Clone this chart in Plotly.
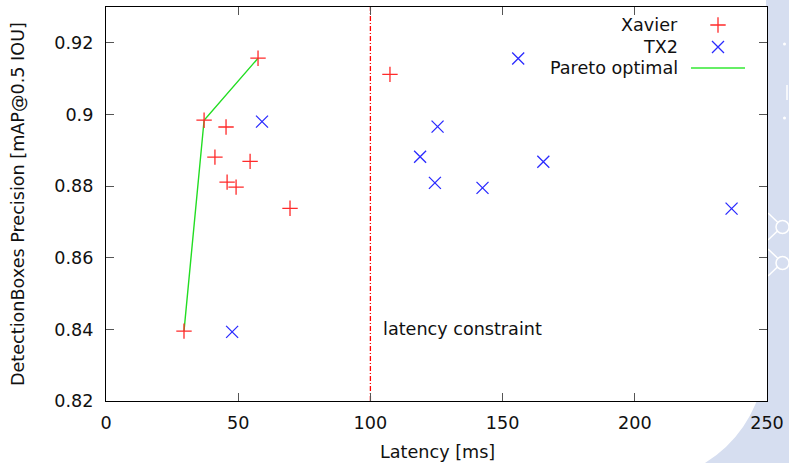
import plotly.graph_objects as go

# ---- data ----
xavier_latency = [29.5, 37.1, 45.4, 41.2, 54.5, 45.8, 49.2, 69.6, 57.5, 107.4]
xavier_map = [0.8395, 0.8984, 0.8965, 0.8881, 0.8869, 0.8811, 0.8797, 0.8738, 0.9157, 0.9112]

tx2_latency = [47.7, 59.0, 155.9, 125.4, 118.8, 124.4, 142.4, 165.4, 236.6]
tx2_map = [0.8393, 0.8980, 0.9156, 0.8966, 0.8882, 0.8809, 0.8795, 0.8868, 0.8737]

pareto_latency = [29.5, 37.1, 57.5]
pareto_map = [0.8395, 0.8984, 0.9157]

latency_constraint = 100
x_ticks = [0, 50, 100, 150, 200, 250]
y_ticks = [0.82, 0.84, 0.86, 0.88, 0.90, 0.92]
y_tick_labels = ["0.82", "0.84", "0.86", "0.88", "0.9", "0.92"]
legend_names = ["Xavier", "TX2", "Pareto optimal"]

# ---- styles ----
RED = "#ff2a2a"
BLUE = "#2a2aff"
GREEN = "#22dd22"
FONT = "DejaVu Sans"
FS = 17.6

# plot area in pixels (for converting decoration positions)
L, R, T, B = 106, 767, 7, 401
W, H = 789, 463


def px(xp):
    return (xp - L) / (R - L)


def py(yp):
    return (B - yp) / (B - T)


fig = go.Figure()

fig.add_trace(go.Scatter(
    x=pareto_latency, y=pareto_map, mode="lines",
    line=dict(color=GREEN, width=1.4), showlegend=False, hoverinfo="skip"))

fig.add_trace(go.Scatter(
    x=[latency_constraint, latency_constraint], y=[0.82, 0.93], mode="lines",
    line=dict(color="#ff0000", width=1.3, dash="5px,2px,1px,2px"),
    showlegend=False, hoverinfo="skip"))

plus_marker = dict(symbol="cross-thin-open", size=11, color=RED, line=dict(color=RED, width=1.3))
x_marker = dict(symbol="x-thin-open", size=12, color=BLUE, line=dict(color=BLUE, width=1.3))

fig.add_trace(go.Scatter(
    x=xavier_latency, y=xavier_map, mode="markers", name=legend_names[0],
    marker=plus_marker, showlegend=False))

fig.add_trace(go.Scatter(
    x=tx2_latency, y=tx2_map, mode="markers", name=legend_names[1],
    marker=x_marker, showlegend=False))

# ---- manual gnuplot-style legend (text left, sample right) ----
leg_y_px = [25, 47, 68]
leg_text_x = px(680)
leg_sample_x = px(718)
fig.add_trace(go.Scatter(
    x=[leg_sample_x], y=[py(leg_y_px[0])], xaxis="x2", yaxis="y2", mode="markers",
    marker=plus_marker, showlegend=False, hoverinfo="skip"))
fig.add_trace(go.Scatter(
    x=[leg_sample_x], y=[py(leg_y_px[1])], xaxis="x2", yaxis="y2", mode="markers",
    marker=x_marker, showlegend=False, hoverinfo="skip"))
fig.add_trace(go.Scatter(
    x=[px(691), px(745)], y=[py(leg_y_px[2])] * 2, xaxis="x2", yaxis="y2", mode="lines",
    line=dict(color="#66ee66", width=2), showlegend=False, hoverinfo="skip"))

annotations = []
for name, yp in zip(legend_names, leg_y_px):
    annotations.append(dict(
        x=leg_text_x, y=py(yp), xref="paper", yref="paper", text=name,
        showarrow=False, xanchor="right", yanchor="middle",
        font=dict(family=FONT, size=FS, color="#111")))

annotations.append(dict(
    x=104, y=0.84, xref="x", yref="y", text="latency constraint",
    showarrow=False, xanchor="left", yanchor="middle",
    font=dict(family=FONT, size=FS, color="#111")))

# y-axis title placed like gnuplot (far left)
annotations.append(dict(
    x=px(18), y=py(204), xref="paper", yref="paper",
    text="DetectionBoxes Precision [mAP@0.5 IOU]", textangle=-90,
    showarrow=False, xanchor="center", yanchor="middle",
    font=dict(family=FONT, size=FS, color="#111")))

# x-axis title
annotations.append(dict(
    x=px(437), y=py(452), xref="paper", yref="paper",
    text="Latency [ms]", showarrow=False, xanchor="center", yanchor="middle",
    font=dict(family=FONT, size=FS, color="#111")))

# ---- background decoration (slide background) ----
BG_BLUE = "#d6def0"
shapes = [
    dict(type="path", xref="paper", yref="paper", layer="below",
         path=(f"M {px(766)},{py(-5)} L {px(795)},{py(-5)} L {px(795)},{py(470)} "
               f"L {px(705)},{py(470)} L {px(705)},{py(463)} "
               f"Q {px(758)},{py(430)} {px(767)},{py(360)} Z"),
         fillcolor=BG_BLUE, line=dict(width=0)),
    dict(type="rect", xref="paper", yref="paper", layer="below",
         x0=0, x1=1, y0=0, y1=1, fillcolor="white", line=dict(width=0)),
]
for cy in (227, 263):
    shapes.append(dict(type="circle", xref="paper", yref="paper", layer="below",
                       x0=px(776), x1=px(789), y0=py(cy + 6.5), y1=py(cy - 6.5),
                       line=dict(color="white", width=1.5)))
    shapes.append(dict(type="line", xref="paper", yref="paper", layer="below",
                       x0=px(768), y0=py(cy - 14), x1=px(777.5), y1=py(cy - 5),
                       line=dict(color="white", width=1.5)))
    shapes.append(dict(type="line", xref="paper", yref="paper", layer="below",
                       x0=px(768), y0=py(cy + 13), x1=px(777.5), y1=py(cy + 4),
                       line=dict(color="white", width=1.5)))
for cy in (44, 118):
    shapes.append(dict(type="circle", xref="paper", yref="paper", layer="below",
                       x0=px(783), x1=px(786), y0=py(cy + 1.5), y1=py(cy - 1.5),
                       fillcolor="white", line=dict(width=0)))
shapes.append(dict(type="line", xref="paper", yref="paper", layer="below",
                   x0=px(787), y0=py(85), x1=px(787), y1=py(100),
                   line=dict(color="white", width=1.5)))

axis_common = dict(
    showgrid=False, zeroline=False, showline=True, linecolor="black", linewidth=1.2,
    mirror="ticks", ticks="inside", ticklen=8, tickwidth=1.3, tickcolor="#555",
    tickfont=dict(family=FONT, size=FS, color="#111"), automargin=False,
)

fig.update_layout(
    width=W, height=H,
    margin=dict(l=L, r=W - R, t=T, b=H - B),
    paper_bgcolor="white",
    plot_bgcolor="rgba(0,0,0,0)",
    font=dict(family=FONT, size=FS, color="#111"),
    xaxis=dict(range=[0, 250], tickvals=x_ticks, ticklabelstandoff=6, **axis_common),
    yaxis=dict(range=[0.82, 0.93], tickvals=y_ticks, ticktext=y_tick_labels,
               ticklabelstandoff=8, **axis_common),
    xaxis2=dict(overlaying="x", range=[0, 1], visible=False, fixedrange=True),
    yaxis2=dict(overlaying="y", range=[0, 1], visible=False, fixedrange=True),
    annotations=annotations,
    shapes=shapes,
)

fig.write_html("out.html")
